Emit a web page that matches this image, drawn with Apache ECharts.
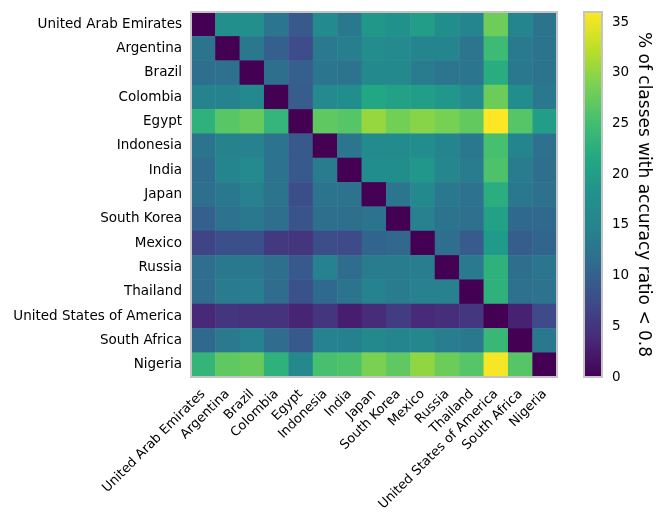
<!DOCTYPE html>
<html><head><meta charset="utf-8">
<script src="https://cdn.jsdelivr.net/npm/echarts@6/dist/echarts.min.js"></script>
<style>html,body{margin:0;padding:0;background:#fff}#c{width:665px;height:528px}</style>
</head><body><div id="c"></div>
<script>
const countries = ['United Arab Emirates','Argentina','Brazil','Colombia','Egypt','Indonesia','India','Japan','South Korea','Mexico','Russia','Thailand','United States of America','South Africa','Nigeria'];

const rowUAE        = [0, 17.6, 17.5, 12.6, 9.0, 16.5, 13.0, 19.0, 18.0, 19.8, 17.3, 15.0, 28.0, 15.0, 12.5];
const rowArgentina  = [12.5, 0, 13.0, 9.8, 7.6, 13.2, 14.0, 16.8, 16.2, 15.2, 15.2, 12.6, 24.5, 13.3, 12.3];
const rowBrazil     = [11.8, 12.0, 0, 11.8, 9.8, 12.6, 12.5, 16.0, 16.0, 13.5, 12.8, 12.6, 22.3, 13.0, 12.4];
const rowColombia   = [14.6, 14.5, 16.0, 0, 9.5, 16.2, 17.0, 21.5, 20.5, 20.0, 18.8, 16.6, 27.8, 17.0, 13.0];
const rowEgypt      = [23.0, 26.5, 27.5, 23.6, 0, 27.0, 26.3, 30.3, 28.3, 29.5, 28.5, 27.2, 36.0, 26.3, 20.0];
const rowIndonesia  = [12.3, 14.6, 14.5, 12.5, 9.0, 0, 12.8, 16.5, 16.5, 17.0, 15.0, 13.0, 25.3, 15.2, 12.0];
const rowIndia      = [11.3, 15.2, 16.2, 12.2, 9.0, 13.5, 0, 17.0, 17.2, 18.8, 15.3, 13.5, 25.8, 13.5, 11.8];
const rowJapan      = [11.8, 13.0, 14.2, 12.3, 7.8, 12.4, 12.2, 0, 12.6, 16.0, 13.0, 12.2, 22.5, 13.0, 12.0];
const rowSouthKorea = [9.8, 12.2, 13.0, 11.8, 8.5, 11.8, 11.8, 12.4, 0, 14.2, 12.4, 11.9, 20.5, 11.0, 11.0];
const rowMexico     = [6.5, 8.0, 8.0, 5.5, 5.0, 7.8, 7.3, 10.5, 10.8, 0, 11.7, 9.3, 19.5, 9.6, 10.5];
const rowRussia     = [11.6, 13.0, 13.0, 11.8, 9.0, 14.4, 11.3, 13.5, 13.5, 13.8, 0, 13.3, 23.0, 11.8, 12.8];
const rowThailand   = [11.4, 13.5, 13.7, 11.3, 8.2, 11.0, 12.4, 14.5, 13.6, 14.2, 14.2, 0, 23.0, 12.0, 12.2];
const rowUSA        = [3.6, 5.0, 4.8, 4.8, 3.2, 5.0, 2.7, 4.0, 5.8, 3.8, 4.2, 5.2, 0, 3.0, 7.3];
const rowSouthAfrica= [11.0, 13.2, 14.5, 11.3, 9.0, 14.5, 14.3, 16.0, 15.0, 15.5, 13.8, 13.0, 24.0, 0, 13.0];
const rowNigeria    = [23.5, 27.0, 27.5, 23.0, 16.0, 25.3, 25.8, 28.8, 27.0, 30.0, 27.8, 26.3, 35.6, 26.3, 0];

const rows = [rowUAE,rowArgentina,rowBrazil,rowColombia,rowEgypt,rowIndonesia,rowIndia,rowJapan,rowSouthKorea,rowMexico,rowRussia,rowThailand,rowUSA,rowSouthAfrica,rowNigeria];
const colorbarTicks = [0,5,10,15,20,25,30,35];
const colorMin = 0, colorMax = 36;
const viridis = ['#440154','#482878','#3e4989','#31688e','#26828e','#21918c','#22a884','#44bf70','#7ad151','#bddf26','#fde725'];

const data = [];
rows.forEach((r,i)=>r.forEach((v,j)=>data.push([j,i,v])));

const FONT = 'DejaVu Sans';
const chart = echarts.init(document.getElementById('c'), null, {renderer:'canvas'});
chart.setOption({
  animation:false,
  backgroundColor:'#fff',
  textStyle:{fontFamily:FONT},
  grid:[
    {left:191, top:12, width:366, height:365, show:true, borderColor:'#c4c4c4', borderWidth:2, backgroundColor:'transparent', z:10},
    {left:584, top:12, width:18, height:365, show:true, borderColor:'#c4c4c4', borderWidth:2, backgroundColor:'transparent', z:10}
  ],
  xAxis:[
    {type:'category', data:countries, gridIndex:0, axisLine:{show:false}, axisTick:{show:false},
     axisLabel:{rotate:45, fontSize:13, color:'#000', margin:15, interval:0, fontFamily:FONT}, splitLine:{show:false}},
    {type:'value', gridIndex:1, show:false, min:0, max:1}
  ],
  yAxis:[
    {type:'category', data:countries, inverse:true, gridIndex:0, axisLine:{show:false}, axisTick:{show:false},
     axisLabel:{fontSize:13.5, color:'#000', margin:9, interval:0, fontFamily:FONT}, splitLine:{show:false}},
    {type:'value', gridIndex:1, position:'right', min:colorMin, max:colorMax, interval:5,
     axisLine:{show:false}, axisTick:{show:true, length:4, lineStyle:{color:'#333'}}, splitLine:{show:false},
     axisLabel:{fontSize:13.5, color:'#000', margin:10, showMaxLabel:false, fontFamily:FONT,
       formatter:v=>colorbarTicks.includes(v)?String(v):''},
     name:'% of classes with accuracy ratio < 0.8', nameLocation:'middle', nameRotate:-90, nameGap:33,
     nameTextStyle:{fontSize:17, color:'#000', fontFamily:FONT}}
  ],
  visualMap:{type:'continuous', min:colorMin, max:colorMax, seriesIndex:0, calculable:false,
    orient:'vertical', left:584, top:12, itemWidth:18, itemHeight:365, padding:0, text:null,
    inRange:{color:viridis}, hoverLink:false},
  series:[{type:'heatmap', xAxisIndex:0, yAxisIndex:0, data:data, itemStyle:{borderWidth:0}, emphasis:{disabled:true}}]
});
</script></body></html>
